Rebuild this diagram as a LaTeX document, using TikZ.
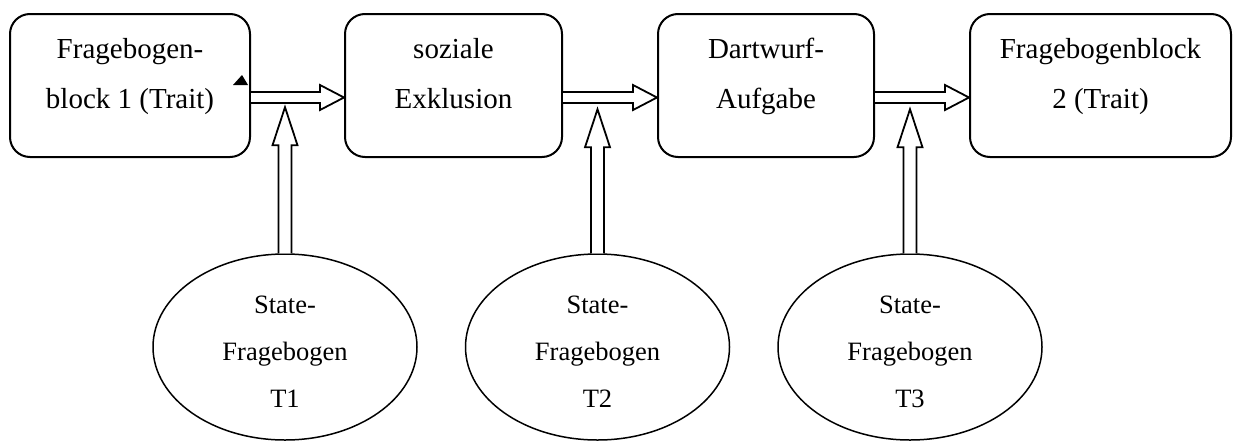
\documentclass[tikz,border=0pt]{standalone}
\usepackage{fontspec}
\setmainfont{Liberation Serif}
\usetikzlibrary{shapes.geometric,calc}
\newcommand\hblockarrow[2]{%
  \draw[blockarrow] ($(#1)+(0,5.5)$) -- ($(#2)+(-24,5.5)$) -- ($(#2)+(-24,12.5)$) -- (#2)
    -- ($(#2)+(-24,-12.5)$) -- ($(#2)+(-24,-5.5)$) -- ($(#1)+(0,-5.5)$);}
\newcommand\vblockarrow[2]{%
  \draw[blockarrow] ($(#1)+(-6.5,0)$) -- ($(#2)+(-6.5,-38)$) -- ($(#2)+(-12.5,-38)$) -- (#2)
    -- ($(#2)+(12.5,-38)$) -- ($(#2)+(6.5,-38)$) -- ($(#1)+(6.5,0)$);}
\begin{document}
\begin{tikzpicture}[x=1pt,y=1pt,
  box/.style={draw, line width=2pt, rounded corners=20pt, minimum height=143pt,
    inner sep=0pt, align=center, font=\fontsize{29}{50}\selectfont,
    text height=55pt, text depth=10pt},
  state/.style={ellipse, draw, line width=1.5pt, minimum width=264pt, minimum height=186pt,
    inner sep=0pt, align=center, font=\fontsize{26.5}{47}\selectfont,
    text height=125pt, text depth=5pt},
  blockarrow/.style={draw, line width=1.8pt, line join=miter, fill=white}]
\useasboundingbox (0,0) rectangle (1233,-442);

\node[box, minimum width=240pt] (b1) at (130,-85.5) {Fragebogen-\\block 1 (Trait)};
\node[box, minimum width=217pt] (b2) at (453.5,-85.5) {soziale\\Exklusion};
\node[box, minimum width=216pt] (b3) at (766,-85.5) {Dartwurf-\\Aufgabe};
\node[box, minimum width=261pt] (b4) at (1100.5,-85.5) {Fragebogenblock\\2 (Trait)};

\node[state] (s1) at (285,-347) {State-\\Fragebogen\\T1};
\node[state] (s2) at (597.5,-347) {State-\\Fragebogen\\T2};
\node[state] (s3) at (910,-347) {State-\\Fragebogen\\T3};

\coordinate (h1s) at ($(b1.east)+(0,-12)$);
\coordinate (h1e) at ($(b2.west)+(0,-12)$);
\coordinate (h2s) at ($(b2.east)+(0,-12)$);
\coordinate (h2e) at ($(b3.west)+(0,-12)$);
\coordinate (h3s) at ($(b3.east)+(0,-12)$);
\coordinate (h3e) at ($(b4.west)+(0,-12)$);
\hblockarrow{h1s}{h1e}
\hblockarrow{h2s}{h2e}
\hblockarrow{h3s}{h3e}

\coordinate (v1t) at ($(s1.north)+(0,146)$);
\coordinate (v2t) at ($(s2.north)+(0,144)$);
\coordinate (v3t) at ($(s3.north)+(0,144)$);
\vblockarrow{s1.north}{v1t}
\vblockarrow{s2.north}{v2t}
\vblockarrow{s3.north}{v3t}

\fill (233,-85) -- (248,-85) -- (242,-75) -- cycle;
\end{tikzpicture}
\end{document}
